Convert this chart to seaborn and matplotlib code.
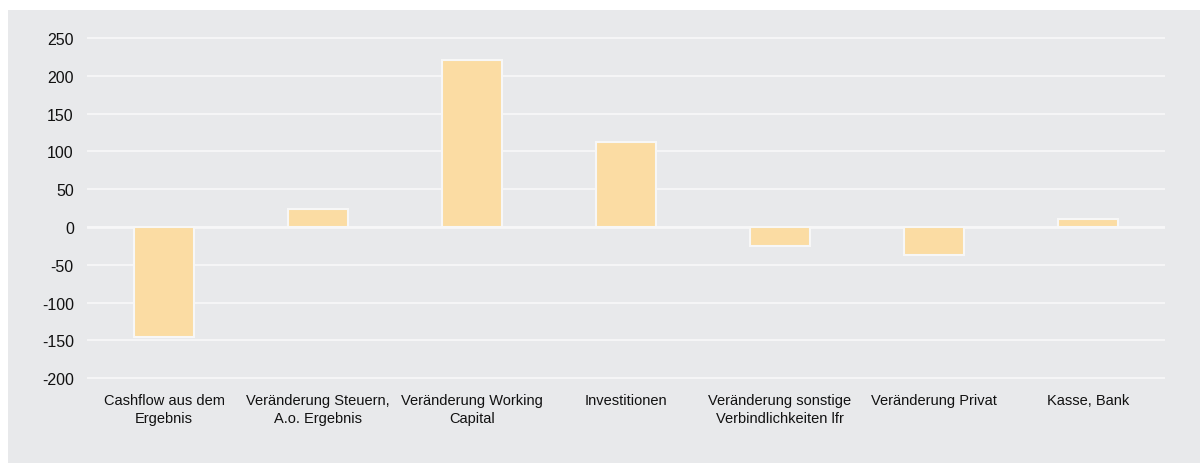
import pandas as pd
import matplotlib.pyplot as plt
import seaborn as sns
from matplotlib.patches import Rectangle

# -------------------------------------------------
# Data
# -------------------------------------------------
categories = [
    "Cashflow aus dem\nErgebnis",
    "Veränderung Steuern,\nA.o. Ergebnis",
    "Veränderung Working\nCapital",
    "Investitionen",
    "Veränderung sonstige\nVerbindlichkeiten lfr",
    "Veränderung Privat",
    "Kasse, Bank",
]
values = [-146, 24, 221, 112, -25, -37, 11]
y_ticks = [250, 200, 150, 100, 50, 0, -50, -100, -150, -200]

df = pd.DataFrame({"category": categories, "value": values})

# -------------------------------------------------
# Style
# -------------------------------------------------
BG = "#e8e9eb"
BAR = "#fbdca3"

sns.set_theme(style="white")
plt.rcParams["font.family"] = ["Liberation Sans", "DejaVu Sans"]
plt.rcParams["axes.unicode_minus"] = False

fig = plt.figure(figsize=(12, 4.64), dpi=100, facecolor="white")
fig.patches.append(Rectangle((8 / 1200, -0.01), 1.01, 1.01 - 11 / 464,
                             transform=fig.transFigure, facecolor=BG,
                             edgecolor="none", zorder=-10))

# axes: x 87..1165 px, y -205..255 mapped so 0 sits at y=228 px
ylo, yhi = -205, 255
px_per_unit = 37.8 / 50
top_px = 228 - yhi * px_per_unit
bot_px = 228 - ylo * px_per_unit
ax = fig.add_axes([87 / 1200, 1 - bot_px / 464, (1165 - 87) / 1200,
                   (bot_px - top_px) / 464])
ax.set_zorder(5)
ax.set_facecolor("none")

sns.barplot(data=df, x="category", y="value", color=BAR, saturation=1,
            width=0.39, edgecolor="#f7f7f7", linewidth=1.5, ax=ax, zorder=3)

ax.set_ylim(ylo, yhi)
ax.set_xlim(-0.5, len(categories) - 0.5)
ax.set_yticks(y_ticks)
ax.yaxis.grid(True, color="#f7f7f8", linewidth=1.3, zorder=0)
ax.xaxis.grid(False)
ax.axhline(0, color="#f7f7f8", linewidth=2, zorder=2)
ax.set_axisbelow(True)
for s in ax.spines.values():
    s.set_visible(False)
ax.tick_params(axis="both", length=0, colors="#111111")
ax.tick_params(axis="y", pad=9.5, labelsize=11.5)
ax.tick_params(axis="x", pad=8, labelsize=10.5)
for lbl in ax.get_xticklabels():
    lbl.set_linespacing(1.35)
ax.set_xlabel("")
ax.set_ylabel("")

fig.savefig("out.png", dpi=100, facecolor="white")
